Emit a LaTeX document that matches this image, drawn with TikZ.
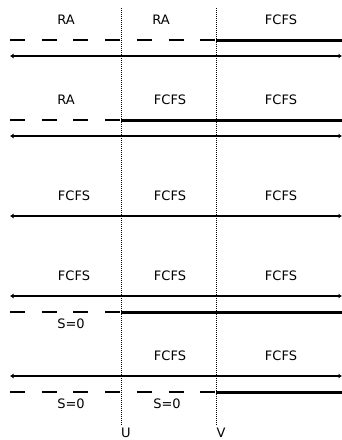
\documentclass[tikz,border=0pt]{standalone}
\usepackage{fontspec}
\setmainfont{DejaVu Sans}
\usetikzlibrary{arrows.meta}
\begin{document}
\begin{tikzpicture}[x=1pt,y=-1pt,
  lbl/.style={font=\fontsize{13}{15}\selectfont, inner sep=0pt},
  axisline/.style={line width=1.3pt, {Latex[length=3.5pt,width=5pt]}-{Latex[length=3.5pt,width=5pt]}},
  dashline/.style={line width=1.3pt, dash pattern=on 15pt off 16.7pt},
  thickline/.style={line width=3pt},
  divider/.style={line width=0.9pt, dash pattern=on 1pt off 1pt}]
\useasboundingbox (0,0) rectangle (342,440);
% dividers
\coordinate (Utop) at (121,8);
\coordinate (Ubot) at (121,425);
\coordinate (Vtop) at (216,8);
\coordinate (Vbot) at (216,425);
\draw[divider] (Utop) -- (Ubot);
\draw[divider] (Vtop) -- (Vbot);
\node[lbl] (U) at (126,432.5) {U};
\node[lbl] (V) at (221,432.5) {V};
% row 1
\node[lbl] (r1a) at (66,20) {RA};
\node[lbl] (r1b) at (161,20) {RA};
\node[lbl] (r1c) at (281,20) {FCFS};
\coordinate (d1s) at (10,40); \coordinate (d1m) at (216,40); \coordinate (d1e) at (342,40);
\draw[dashline] (d1s) -- (d1m);
\draw[thickline] (d1m) -- (d1e);
\coordinate (a1s) at (10,56); \coordinate (a1e) at (342,56);
\draw[axisline] (a1s) -- (a1e);
% row 2
\node[lbl] (r2a) at (66,100) {RA};
\node[lbl] (r2b) at (170,100) {FCFS};
\node[lbl] (r2c) at (281,100) {FCFS};
\coordinate (d2s) at (10,120); \coordinate (d2m) at (121,120); \coordinate (d2e) at (342,120);
\draw[dashline] (d2s) -- (d2m);
\draw[thickline] (d2m) -- (d2e);
\coordinate (a2s) at (10,136); \coordinate (a2e) at (342,136);
\draw[axisline] (a2s) -- (a2e);
% row 3
\node[lbl] (r3a) at (74,196) {FCFS};
\node[lbl] (r3b) at (170,196) {FCFS};
\node[lbl] (r3c) at (281,196) {FCFS};
\coordinate (a3s) at (10,216); \coordinate (a3e) at (342,216);
\draw[axisline] (a3s) -- (a3e);
% row 4
\node[lbl] (r4a) at (74,276) {FCFS};
\node[lbl] (r4b) at (170,276) {FCFS};
\node[lbl] (r4c) at (281,276) {FCFS};
\coordinate (a4s) at (10,296); \coordinate (a4e) at (342,296);
\draw[axisline] (a4s) -- (a4e);
\coordinate (d4s) at (10,312); \coordinate (d4m) at (121,312); \coordinate (d4e) at (342,312);
\draw[dashline] (d4s) -- (d4m);
\draw[thickline] (d4m) -- (d4e);
\node[lbl] (s4a) at (71,324) {S=0};
% row 5
\node[lbl] (r5b) at (170,356) {FCFS};
\node[lbl] (r5c) at (281,356) {FCFS};
\coordinate (a5s) at (10,376); \coordinate (a5e) at (342,376);
\draw[axisline] (a5s) -- (a5e);
\coordinate (d5s) at (10,392); \coordinate (d5m) at (216,392); \coordinate (d5e) at (342,392);
\draw[dashline] (d5s) -- (d5m);
\draw[thickline] (d5m) -- (d5e);
\node[lbl] (s5a) at (71,404) {S=0};
\node[lbl] (s5b) at (167,404) {S=0};
\end{tikzpicture}
\end{document}
